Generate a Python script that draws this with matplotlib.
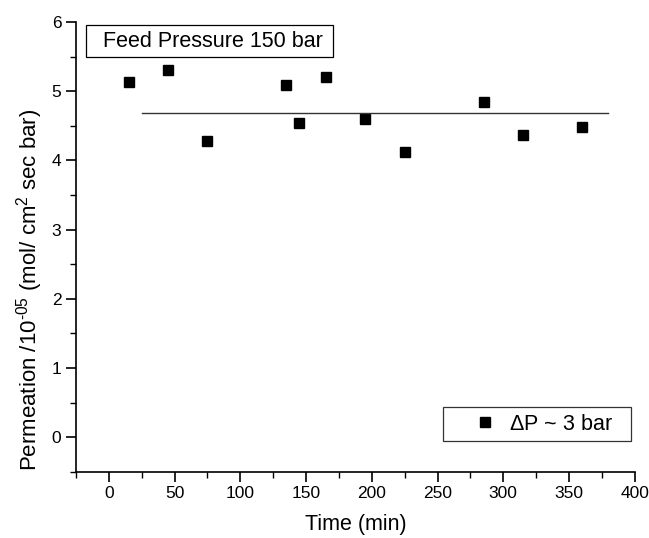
import matplotlib
matplotlib.use('Agg')
import matplotlib.pyplot as plt
from matplotlib.patches import Rectangle
from matplotlib.ticker import MultipleLocator

plt.rcParams['font.family'] = ['Liberation Sans', 'DejaVu Sans']
plt.rcParams['mathtext.fontset'] = 'custom'
plt.rcParams['mathtext.rm'] = 'Liberation Sans'

# Permeation measurements (Feed pressure 150 bar, dP ~ 3 bar)
time_min = [15, 45, 75, 135, 145, 165, 195, 225, 285, 315, 360]
permeation = [5.13, 5.30, 4.28, 5.09, 4.54, 5.20, 4.60, 4.12, 4.85, 4.37, 4.48]

# average line
avg_x = [25, 380]
avg_y = [4.69, 4.69]

fig = plt.figure(figsize=(6.49, 5.38), dpi=100)
ax = fig.add_axes([0.117, 0.123, 0.861, 0.836])

ax.plot(time_min, permeation, 's', color='black', markersize=6.5, label='$\\Delta$P ~ 3 bar   ')
ax.plot(avg_x, avg_y, '-', color='#333333', linewidth=1.0)

ax.set_xlim(-25, 400)
ax.set_ylim(-0.5, 6)
ax.xaxis.set_major_locator(MultipleLocator(50))
ax.xaxis.set_minor_locator(MultipleLocator(25))
ax.yaxis.set_major_locator(MultipleLocator(1))
ax.yaxis.set_minor_locator(MultipleLocator(0.5))

for s in ['top', 'right']:
    ax.spines[s].set_visible(False)
for s in ['left', 'bottom']:
    ax.spines[s].set_linewidth(1.2)

ax.tick_params(which='major', direction='out', length=7, width=1.2, labelsize=12.5)
ax.tick_params(which='minor', direction='out', length=4, width=1.0)

ax.set_xlabel('Time (min)', fontsize=15.5, labelpad=9)
ax.set_ylabel(r'Permeation /10$^{\mathregular{\text{-}05}}$ (mol/ cm$^{\mathregular{2}}$ sec bar)',
              fontsize=16)
ax.yaxis.set_label_coords(-0.055, 0.405)

# "Feed Pressure" box
ax.add_patch(Rectangle((0.018, 0.922), 0.442, 0.071, transform=ax.transAxes,
                       facecolor='white', edgecolor='black', linewidth=0.9, clip_on=False))
ax.text(0.245, 0.956, 'Feed Pressure 150 bar', transform=ax.transAxes, fontsize=15.5,
        va='center', ha='center')

leg = ax.legend(loc='lower right', bbox_to_anchor=(0.994, 0.068), fontsize=15.5, frameon=True,
                fancybox=False, edgecolor='black', handletextpad=-0.55, borderpad=0.3,
                handlelength=3.3, borderaxespad=0)
leg.get_frame().set_linewidth(0.9)

fig.savefig('out.png', dpi=100)
